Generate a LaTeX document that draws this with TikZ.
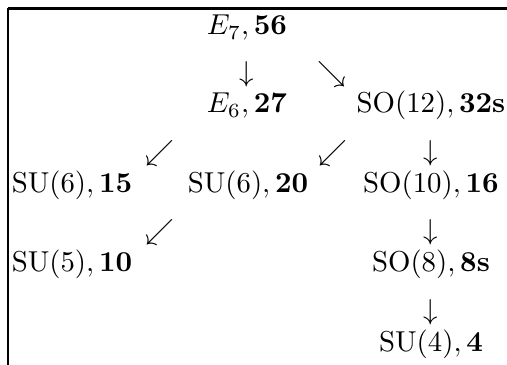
\documentclass[tikz,border=0pt]{standalone}
\usepackage{amsmath}
\usepackage{amssymb}
\begin{document}
\begin{tikzpicture}[x=0.3472pt,y=-0.3472pt,
  rep/.style={anchor=base,inner sep=0pt},
  arr/.style={midway,inner sep=0pt}]
\useasboundingbox (0,0) rectangle (507,365);
\draw[line width=0.8pt] (8,8.5) -- (507,8.5);
\draw[line width=0.8pt] (8,8.5) -- (8,365);
% groups and representations
\node[rep] (e7) at (247,35) {$E_7,\mathbf{56}$};
\node[rep] (e6) at (247,113) {$E_6,\mathbf{27}$};
\node[rep] (so12) at (431,113) {$\mathrm{SO}(12),\mathbf{32s}$};
\node[rep] (su15) at (72,193) {$\mathrm{SU}(6),\mathbf{15}$};
\node[rep] (su20) at (248,193) {$\mathrm{SU}(6),\mathbf{20}$};
\node[rep] (so10) at (431,193) {$\mathrm{SO}(10),\mathbf{16}$};
\node[rep] (su5) at (72,272) {$\mathrm{SU}(5),\mathbf{10}$};
\node[rep] (so8) at (431,272) {$\mathrm{SO}(8),\mathbf{8s}$};
\node[rep] (su4) at (431,352) {$\mathrm{SU}(4),\mathbf{4}$};
% breakings
\path (e7.base) -- node[arr] {$\downarrow$} (e6.base);
\path (e7.base) -- node[arr,xshift=-2.4pt] {$\searrow$} (so12.base);
\path (e6.base) -- node[arr] {$\swarrow$} (su15.base);
\path (so12.base) -- node[arr,xshift=-2.4pt] {$\swarrow$} (su20.base);
\path (so12.base) -- node[arr] {$\downarrow$} (so10.base);
\path (su20.base) -- node[arr] {$\swarrow$} (su5.base);
\path (so10.base) -- node[arr] {$\downarrow$} (so8.base);
\path (so8.base) -- node[arr] {$\downarrow$} (su4.base);
\end{tikzpicture}
\end{document}
